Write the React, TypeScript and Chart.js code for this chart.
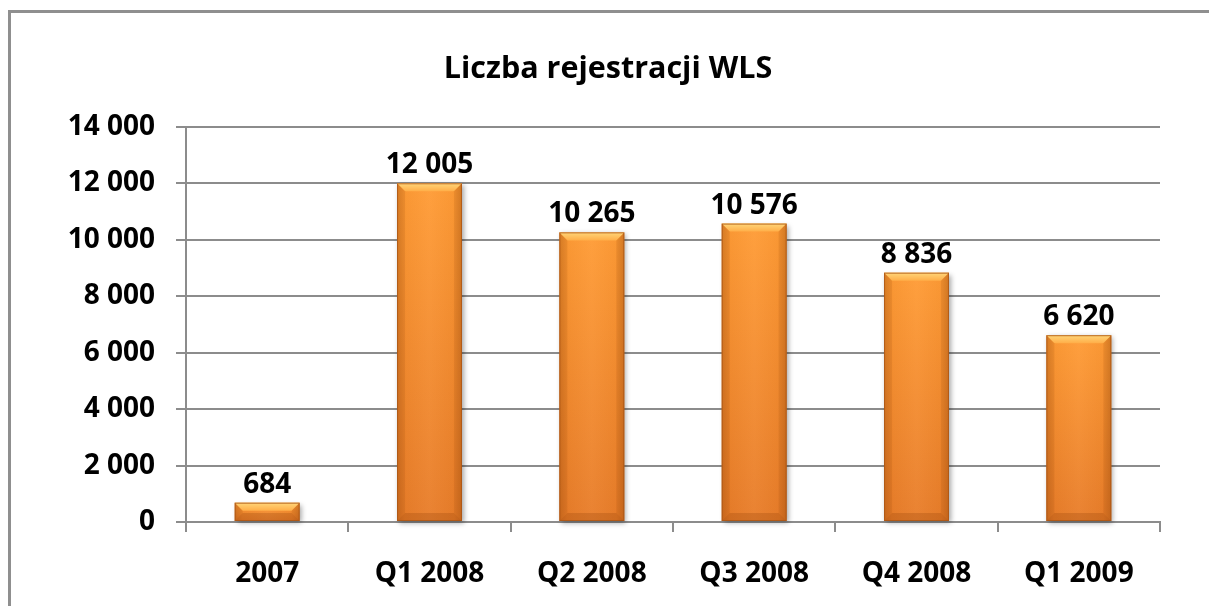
import React, { useEffect, useRef } from "react";
import { Chart, registerables } from "chart.js";

Chart.register(...registerables);

const chartTitle = "Liczba rejestracji WLS";
const categories = ["2007", "Q1 2008", "Q2 2008", "Q3 2008", "Q4 2008", "Q1 2009"];
const registrations = [684, 12005, 10265, 10576, 8836, 6620];
const yMin = 0;
const yMax = 14000;
const yStep = 2000;

const FONT = "'Open Sans', 'DejaVu Sans', sans-serif";
const GRID = "#8c8c8c";

const fmt = (v: number) => String(Math.round(v)).replace(/\B(?=(\d{3})+(?!\d))/g, " ");

const barStylePlugin = {
  id: "barStyle",
  afterDatasetsDraw(chart: any) {
    const ctx = chart.ctx as CanvasRenderingContext2D;
    const meta = chart.getDatasetMeta(0);
    meta.data.forEach((el: any) => {
      const { x, y, base, width } = el.getProps(["x", "y", "base", "width"], true);
      const l = x - width / 2;
      const r = x + width / 2;
      const t = Math.min(y, base);
      const b = Math.max(y, base);
      const h = b - t;
      const bev = Math.min(8, h / 2.2);

      ctx.save();
      ctx.shadowColor = "rgba(0,0,0,0.35)";
      ctx.shadowBlur = 5;
      ctx.shadowOffsetX = 2;
      ctx.shadowOffsetY = 2;
      const vg = ctx.createLinearGradient(0, t, 0, b);
      vg.addColorStop(0, "#ff9c36");
      vg.addColorStop(1, "#e87d2a");
      ctx.fillStyle = vg;
      ctx.fillRect(l, t, width, h);
      ctx.shadowColor = "rgba(0,0,0,0)";

      const hg = ctx.createLinearGradient(l, 0, r, 0);
      hg.addColorStop(0, "rgba(120,50,0,0.22)");
      hg.addColorStop(0.12, "rgba(120,50,0,0.04)");
      hg.addColorStop(0.5, "rgba(255,255,255,0.04)");
      hg.addColorStop(0.88, "rgba(120,50,0,0.04)");
      hg.addColorStop(1, "rgba(120,50,0,0.25)");
      ctx.fillStyle = hg;
      ctx.fillRect(l, t, width, h);

      const tg = ctx.createLinearGradient(0, t, 0, t + bev);
      tg.addColorStop(0, "#ffd679");
      tg.addColorStop(1, "#ffae48");
      ctx.fillStyle = tg;
      ctx.beginPath();
      ctx.moveTo(l, t);
      ctx.lineTo(r, t);
      ctx.lineTo(r - bev, t + bev);
      ctx.lineTo(l + bev, t + bev);
      ctx.closePath();
      ctx.fill();

      ctx.fillStyle = "rgba(150,70,10,0.28)";
      ctx.beginPath();
      ctx.moveTo(l, b);
      ctx.lineTo(r, b);
      ctx.lineTo(r - bev, b - bev);
      ctx.lineTo(l + bev, b - bev);
      ctx.closePath();
      ctx.fill();

      ctx.fillStyle = "rgba(130,60,0,0.12)";
      ctx.beginPath();
      ctx.moveTo(l, t);
      ctx.lineTo(l + bev, t + bev);
      ctx.lineTo(l + bev, b - bev);
      ctx.lineTo(l, b);
      ctx.closePath();
      ctx.fill();
      ctx.beginPath();
      ctx.moveTo(r, t);
      ctx.lineTo(r - bev, t + bev);
      ctx.lineTo(r - bev, b - bev);
      ctx.lineTo(r, b);
      ctx.closePath();
      ctx.fill();

      ctx.strokeStyle = "rgba(170,85,20,0.8)";
      ctx.lineWidth = 1;
      ctx.strokeRect(l + 0.5, t + 0.5, width - 1, h - 1);
      ctx.restore();
    });
  },
};

const valueLabelPlugin = {
  id: "valueLabels",
  afterDatasetsDraw(chart: any) {
    const ctx = chart.ctx as CanvasRenderingContext2D;
    const meta = chart.getDatasetMeta(0);
    const data = chart.data.datasets[0].data as number[];
    ctx.save();
    ctx.font = `bold 28px ${FONT}`;
    ctx.fillStyle = "#000";
    ctx.textAlign = "center";
    ctx.textBaseline = "alphabetic";
    meta.data.forEach((el: any, i: number) => {
      const { x, y } = el.getProps(["x", "y"], true);
      ctx.fillText(fmt(data[i]), x, y - 10);
    });
    ctx.restore();
  },
};

export default function App() {
  const ref = useRef<HTMLCanvasElement | null>(null);

  useEffect(() => {
    if (!ref.current) return;
    const chart = new Chart(ref.current, {
      type: "bar",
      data: {
        labels: categories,
        datasets: [
          {
            label: chartTitle,
            data: registrations,
            backgroundColor: "rgba(0,0,0,0)",
            borderWidth: 0,
            barPercentage: 0.4,
            categoryPercentage: 1,
          },
        ],
      },
      options: {
        animation: false,
        responsive: false,
        maintainAspectRatio: false,
        layout: { padding: { top: 0, left: 56, right: 49, bottom: 0 } },
        plugins: {
          legend: { display: false },
          tooltip: { enabled: false },
          title: {
            display: true,
            text: chartTitle,
            color: "#000",
            font: { family: FONT, size: 30.5, weight: "bold", lineHeight: 1.2 },
            padding: { top: 51, bottom: 39.4 },
          },
        },
        scales: {
          x: {
            offset: true,
            grid: {
              display: true,
              offset: true,
              drawOnChartArea: false,
              drawTicks: true,
              tickLength: 10,
              color: GRID,
              lineWidth: 2,
            },
            border: { display: true, color: GRID, width: 2 },
            ticks: {
              color: "#000",
              padding: 25,
              maxRotation: 0,
              font: { family: FONT, size: 28, weight: "bold" },
            },
            afterFit: (s: any) => {
              s.height = 84;
            },
          },
          y: {
            min: yMin,
            max: yMax,
            grid: { color: GRID, lineWidth: 2, tickLength: 10, drawTicks: true },
            border: { display: true, color: GRID, width: 2 },
            ticks: {
              stepSize: yStep,
              color: "#000",
              padding: 21,
              font: { family: FONT, size: 28, weight: "bold" },
              callback: (v: any) => fmt(Number(v)),
            },
            afterFit: (s: any) => {
              s.width = 130;
            },
          },
        },
      },
      plugins: [barStylePlugin, valueLabelPlugin],
    });
    return () => chart.destroy();
  }, []);

  return (
    <div style={{ position: "fixed", inset: 0, overflow: "hidden", background: "#fff" }}>
      <div
        style={{
          position: "absolute",
          left: 8,
          top: 10,
          width: 1300,
          height: 700,
          border: "3px solid #8f8f8f",
          boxSizing: "border-box",
        }}
      />
      <canvas
        ref={ref}
        width={1209}
        height={606}
        style={{ position: "absolute", left: 0, top: 0, width: 1209, height: 606 }}
      />
    </div>
  );
}
